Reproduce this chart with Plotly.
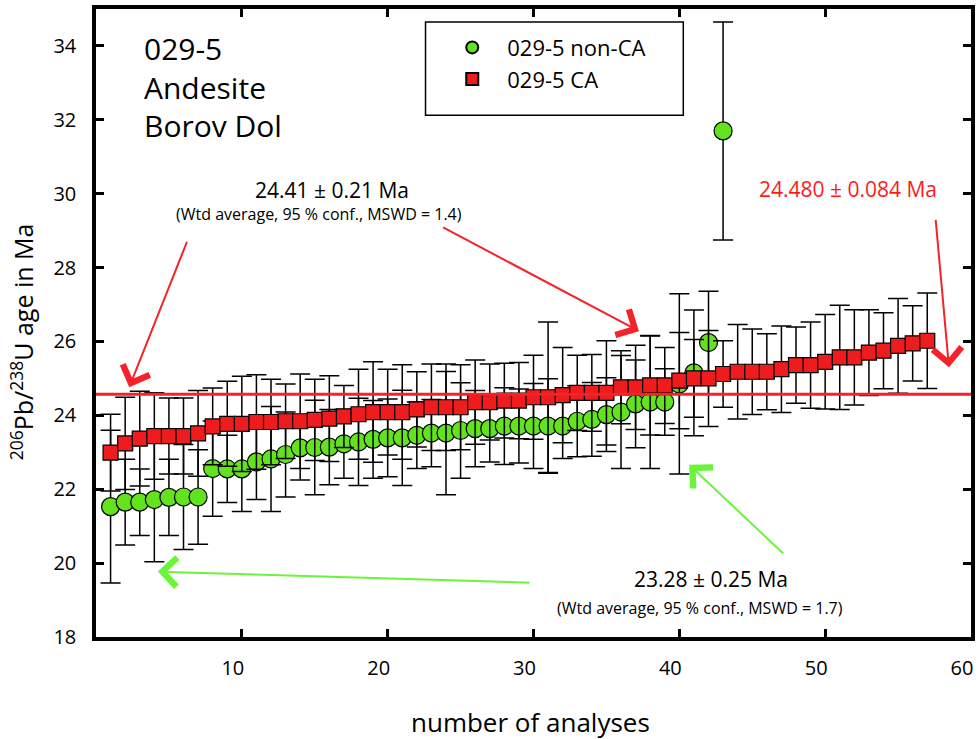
import plotly.graph_objects as go

# ---------------- data ----------------
non_ca_n = list(range(1, 44))
non_ca_age = [21.53, 21.65, 21.65, 21.72, 21.78, 21.79, 21.79, 22.56, 22.55, 22.55,
              22.74, 22.82, 22.94, 23.12, 23.13, 23.14, 23.23, 23.28, 23.35, 23.39,
              23.39, 23.46, 23.52, 23.52, 23.59, 23.64, 23.64, 23.71, 23.71, 23.71,
              23.71, 23.71, 23.84, 23.89, 24.02, 24.09, 24.31, 24.36, 24.36, 24.85,
              25.15, 25.97, 31.70]
non_ca_err = [2.07, 1.16, 0.90, 1.68, 1.03, 1.42, 1.28, 1.29, 0.91, 1.15,
              1.02, 1.42, 1.15, 0.87, 1.28, 1.02, 0.93, 1.18, 1.05, 1.05,
              1.29, 0.90, 0.91, 1.67, 1.29, 1.03, 0.90, 1.04, 1.00, 1.15,
              1.28, 0.88, 0.96, 1.00, 1.00, 1.53, 1.19, 1.80, 0.90, 2.44,
              1.70, 1.39, 2.95]

ca_n = list(range(1, 58))
ca_age = [22.99, 23.24, 23.37, 23.44, 23.44, 23.44, 23.51, 23.70, 23.77, 23.77,
          23.82, 23.82, 23.84, 23.84, 23.88, 23.91, 23.97, 24.03, 24.09, 24.09,
          24.09, 24.16, 24.22, 24.22, 24.22, 24.36, 24.36, 24.40, 24.40, 24.49,
          24.49, 24.55, 24.61, 24.61, 24.61, 24.76, 24.76, 24.81, 24.81, 24.94,
          25.00, 25.00, 25.12, 25.18, 25.18, 25.18, 25.25, 25.36, 25.36, 25.45,
          25.57, 25.57, 25.70, 25.75, 25.88, 25.95, 26.02]
ca_err = [1.04, 1.25, 1.28, 1.17, 1.03, 1.03, 1.16, 1.04, 1.15, 1.29,
          1.28, 1.16, 1.01, 1.28, 1.10, 1.16, 0.84, 1.22, 1.36, 1.16,
          1.28, 1.02, 1.17, 1.17, 1.15, 1.14, 1.03, 1.01, 1.03, 1.14,
          2.04, 1.29, 1.02, 1.04, 1.41, 0.99, 1.14, 1.34, 1.03, 1.30,
          1.05, 1.30, 0.90, 1.28, 1.16, 1.03, 1.17, 1.03, 1.17, 1.28,
          1.41, 1.29, 1.16, 1.03, 1.28, 1.02, 1.29]

ca_mean_line = 24.57
x_ticks = [10, 20, 30, 40, 50, 60]
y_ticks = [18, 20, 22, 24, 26, 28, 30, 32, 34]

FONT = "Open Sans"
GREEN = "#63E21E"
RED = "#EE1C1C"
ARROW_RED = "#F5222A"
ARROW_GREEN = "#6BF53A"

fig = go.Figure()

fig.add_trace(go.Scatter(
    x=non_ca_n, y=non_ca_age, mode="markers", name="029-5 non-CA",
    legendgroup="a",
    marker=dict(symbol="circle", size=18, color=GREEN, line=dict(color="black", width=1.2)),
    error_y=dict(type="data", array=non_ca_err, symmetric=True, color="black",
                 thickness=1.5, width=10),
))
fig.add_trace(go.Scatter(
    x=ca_n, y=ca_age, mode="markers", name="029-5 CA",
    legendgroup="b",
    marker=dict(symbol="square", size=15, color=RED, line=dict(color="black", width=1.2)),
    error_y=dict(type="data", array=ca_err, symmetric=True, color="black",
                 thickness=1.5, width=10),
))

# horizontal mean line
fig.add_shape(type="line", xref="paper", x0=0, x1=1, yref="y", y0=ca_mean_line, y1=ca_mean_line,
              line=dict(color=ARROW_RED, width=3), layer="above")

# legend box
fig.add_shape(type="rect", xref="paper", yref="paper",
              x0=0.3766, x1=0.6712, y0=0.8307, y1=0.9794,
              line=dict(color="black", width=1.5), fillcolor="rgba(0,0,0,0)", layer="above")

ann = []
def txt(t, x, y, size, color="black", xanchor="center", yanchor="middle", xref="x", yref="y", angle=0):
    ann.append(dict(text=t, x=x, y=y, xref=xref, yref=yref, showarrow=False,
                    xanchor=xanchor, yanchor=yanchor, textangle=angle,
                    font=dict(family=FONT, size=size, color=color)))

def arrow(tip_x, tip_y, tail_x, tail_y, color):
    ann.append(dict(text="", x=tip_x, y=tip_y, ax=tail_x, ay=tail_y,
                    xref="x", yref="y", axref="x", ayref="y",
                    showarrow=True, arrowhead=4, arrowsize=2.8, arrowwidth=2.0,
                    arrowcolor=color, standoff=0, startstandoff=0))

txt("029-5", 3.14, 33.93, 30, xanchor="left")
txt("Andesite", 3.14, 32.88, 30, xanchor="left")
txt("Borov Dol", 3.14, 31.86, 30, xanchor="left")
txt("24.41 ± 0.21 Ma", 16.17, 30.10, 21)
txt("(Wtd average, 95 % conf., MSWD = 1.4)", 15.29, 29.46, 16)
txt("24.480 ± 0.084 Ma", 51.58, 30.12, 21, color="#FF1A1A")
txt("23.28 ± 0.25 Ma", 42.17, 19.56, 21)
txt("(Wtd average, 95 % conf., MSWD = 1.7)", 41.42, 18.79, 16)

arrow(2.28, 24.76, 6.28, 28.74, ARROW_RED)
arrow(37.23, 26.28, 23.70, 29.11, ARROW_RED)
arrow(58.49, 25.30, 57.57, 29.33, ARROW_RED)
arrow(4.24, 19.77, 29.82, 19.47, ARROW_GREEN)
arrow(40.68, 22.66, 47.23, 20.22, ARROW_GREEN)

# axis titles
txt("number of analyses", 0.496, -0.135, 26, xref="paper", yref="paper", yanchor="middle")
txt("<sup>206</sup>Pb/<sup>238</sup>U age in Ma", -0.084, 0.47, 25, xref="paper", yref="paper", angle=-90)

fig.update_layout(
    width=980, height=739,
    margin=dict(l=96, r=5, t=5, b=102),
    paper_bgcolor="white", plot_bgcolor="white",
    font=dict(family=FONT, size=20, color="black"),
    showlegend=True,
    legend=dict(x=0.39, y=0.972, xanchor="left", yanchor="top",
                bgcolor="rgba(0,0,0,0)", borderwidth=0,
                font=dict(family=FONT, size=22, color="black"),
                itemsizing="constant", tracegroupgap=0, itemwidth=60),
    annotations=ann,
    xaxis=dict(range=[0, 60], tickvals=x_ticks, ticks="inside", ticklen=8, tickwidth=3,
               tickcolor="black", showline=True, linecolor="black", linewidth=3.5,
               mirror="ticks", showgrid=False, zeroline=False,
               tickfont=dict(family=FONT, size=20), ticklabelstandoff=10, ticklabelshift=-9),
    yaxis=dict(range=[18, 35], tickvals=y_ticks, ticks="inside", ticklen=8, tickwidth=3,
               tickcolor="black", showline=True, linecolor="black", linewidth=3.5,
               mirror="ticks", showgrid=False, zeroline=False,
               tickfont=dict(family=FONT, size=20), ticklabelstandoff=12),
)

fig.write_html("out.html", config={"displayModeBar": False},
               post_script="document.body.style.margin='0';document.body.style.overflow='hidden';")
